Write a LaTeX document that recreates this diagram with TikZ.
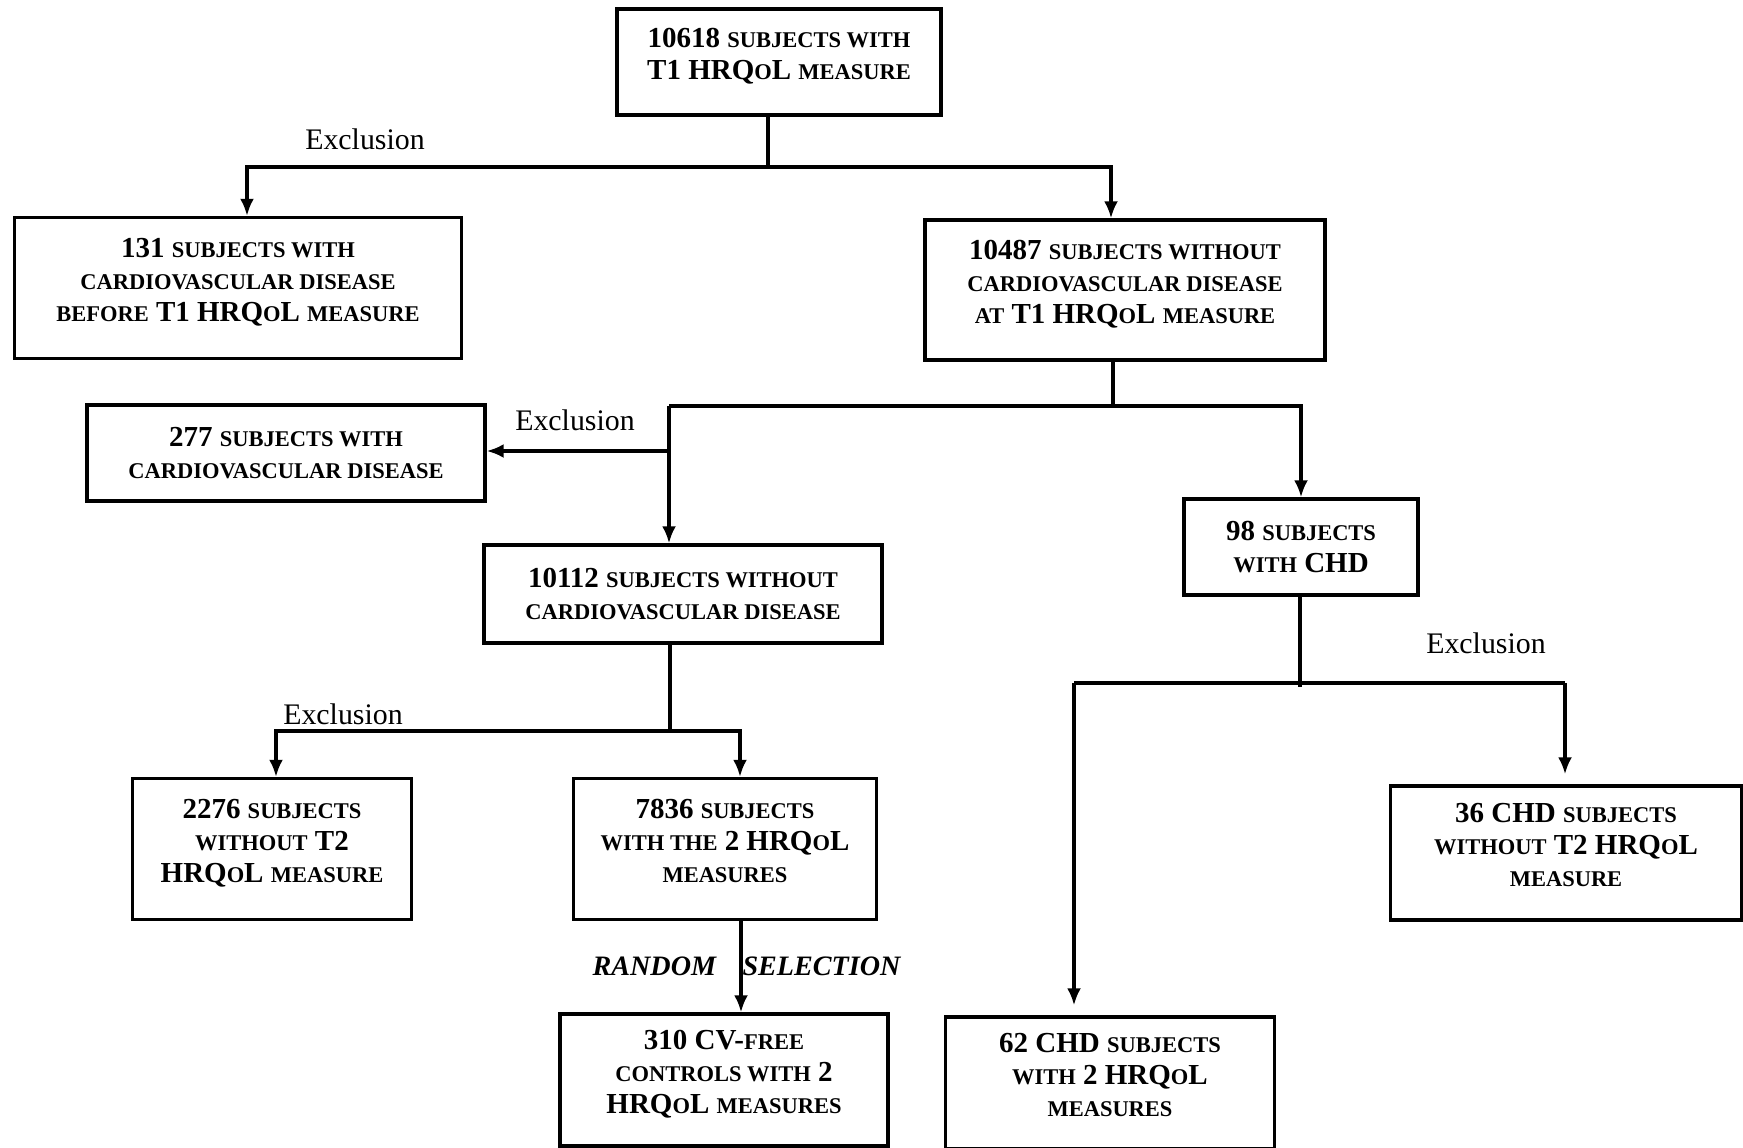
\documentclass[tikz,border=0pt]{standalone}
\usepackage{fontspec}
\setmainfont{Liberation Serif}
\usepackage{tikz}
\usetikzlibrary{arrows.meta, positioning, calc}
\newcommand{\smc}[1]{{\fontsize{12.8pt}{18.2pt}\selectfont #1}}

\begin{document}
\begin{tikzpicture}[
    x=0.02cm, y=-0.02cm,
    box/.style={rectangle, draw, line width=2pt, align=center, inner sep=0pt, font=\bfseries\fontsize{16.5pt}{18.2pt}\selectfont},
    lift/.style={execute at end node={\rule[-9pt]{0pt}{9pt}}},
    link/.style={line width=1.8pt},
    arrow/.style={link, -{Latex[length=3.4mm, width=2.8mm]}},
    excl/.style={font=\fontsize{17pt}{20pt}\selectfont},
    pick/.style={font=\bfseries\itshape\fontsize{16pt}{19pt}\selectfont}
]
\useasboundingbox (0,0) rectangle (1743,1148);

% Boxes
\node[box, lift, minimum width=6.48cm, minimum height=2.12cm] (all) at (779,62) {10618 \smc{SUBJECTS WITH}\\T1 HRQ\smc{O}L \smc{MEASURE}};
\node[box, lift, minimum width=8.94cm, minimum height=2.82cm] (cvdbefore) at (238,288) {131 \smc{SUBJECTS WITH}\\\smc{CARDIOVASCULAR DISEASE}\\\smc{BEFORE} T1 HRQ\smc{O}L \smc{MEASURE}};
\node[box, lift, minimum width=8cm, minimum height=2.8cm] (nocvd) at (1125,290) {10487 \smc{SUBJECTS WITHOUT}\\\smc{CARDIOVASCULAR DISEASE}\\\smc{AT} T1 HRQ\smc{O}L \smc{MEASURE}};
\node[box, minimum width=7.96cm, minimum height=1.92cm] (cvd) at (286,453) {277 \smc{SUBJECTS WITH}\\\smc{CARDIOVASCULAR DISEASE}};
\node[box, minimum width=7.96cm, minimum height=1.96cm] (nocvdtwo) at (683,594) {10112 \smc{SUBJECTS WITHOUT}\\\smc{CARDIOVASCULAR DISEASE}};
\node[box, minimum width=4.68cm, minimum height=1.92cm] (chd) at (1301,547) {98 \smc{SUBJECTS}\\\smc{WITH} CHD};
\node[box, lift, minimum width=5.58cm, minimum height=2.82cm] (lost) at (272,849) {2276 \smc{SUBJECTS}\\\smc{WITHOUT} T2\\HRQ\smc{O}L \smc{MEASURE}};
\node[box, lift, minimum width=6.06cm, minimum height=2.82cm] (both) at (725,849) {7836 \smc{SUBJECTS}\\\smc{WITH THE} 2 HRQ\smc{O}L\\\smc{MEASURES}};
\node[box, lift, minimum width=6.56cm, minimum height=2.64cm] (controls) at (724,1080) {310 CV-\smc{FREE}\\\smc{CONTROLS WITH} 2\\HRQ\smc{O}L \smc{MEASURES}};
\node[box, lift, minimum width=6.58cm, minimum height=2.64cm] (chdboth) at (1110,1083) {62 CHD \smc{SUBJECTS}\\\smc{WITH} 2 HRQ\smc{O}L\\\smc{MEASURES}};
\node[box, lift, minimum width=7.02cm, minimum height=2.68cm] (chdlost) at (1566,853) {36 CHD \smc{SUBJECTS}\\\smc{WITHOUT} T2 HRQ\smc{O}L\\\smc{MEASURE}};

% Forks
\coordinate (fork1) at (768,167);
\coordinate (fork2) at (1113,406);
\coordinate (left2) at (669,406);
\coordinate (excl2) at (669,451);
\coordinate (fork3) at (670,731);
\coordinate (fork4) at (1300,683);

% Connectors
\draw[link] (all.south -| fork1) -- (fork1);
\draw[arrow] (fork1) -| ($(cvdbefore.north)+(9,0)$);
\draw[arrow] (fork1) -| ($(nocvd.north)+(-14,0)$);
\draw[link] (nocvd.south -| fork2) -- (fork2);
\draw[link] (fork2) -- (left2);
\draw[arrow] (fork2) -| (chd.north);
\draw[arrow] (left2) -- (nocvdtwo.north -| left2);
\draw[arrow] (excl2) -- (cvd.east |- excl2);
\draw[link] (nocvdtwo.south -| fork3) -- (fork3);
\draw[arrow] (fork3) -| ($(lost.north)+(4,0)$);
\draw[arrow] (fork3) -| ($(both.north)+(15,0)$);
\draw[arrow] ($(both.south)+(16,0)$) -- node[pick, left, xshift=-0.35cm] (rnd) {RANDOM} node[pick, right, inner sep=0pt] (sel) {SELECTION} ($(controls.north)+(17,0)$);
\draw[link] (chd.south -| fork4) -- ($(fork4)+(0,4)$);
\draw[link] ($(fork4)+(-226,0)$) -- ($(fork4)+(265,0)$);
\draw[arrow, shorten >=0.2cm] ($(fork4)+(-226,0)$) -- ($(chdboth.north)+(-36,0)$);
\draw[arrow, shorten >=0.2cm] ($(fork4)+(265,0)$) -- ($(chdlost.north)+(-1,0)$);

% Labels
\node[excl] (exclA) at (365,139) {Exclusion};
\node[excl] (exclB) at (575,420) {Exclusion};
\node[excl] (exclC) at (343,714) {Exclusion};
\node[excl] (exclD) at (1486,643) {Exclusion};

\end{tikzpicture}
\end{document}
